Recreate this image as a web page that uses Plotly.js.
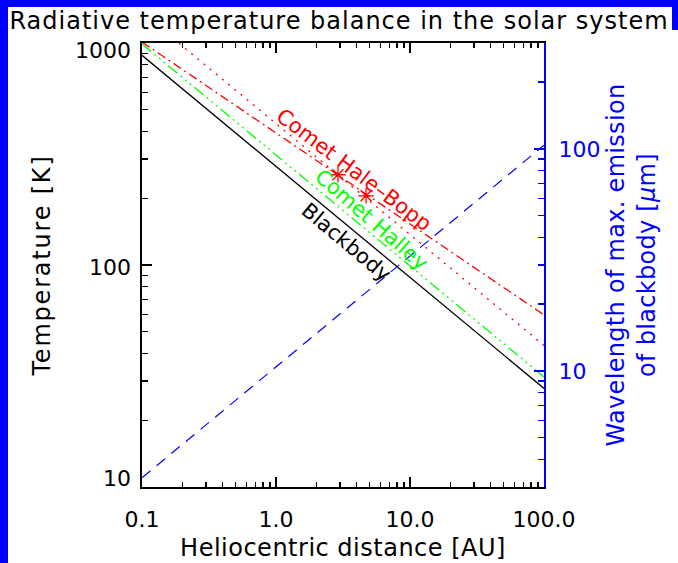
<!DOCTYPE html>
<html>
<head>
<meta charset="utf-8">
<script src="https://cdn.plot.ly/plotly-3.0.1.min.js"></script>
<style>
  html, body { margin: 0; padding: 0; background: #ffffff; }
  #wrap { position: relative; width: 678px; height: 563px; overflow: hidden; }
  #chart { position: absolute; left: 0; top: 0; width: 678px; height: 563px; }
  .strip { position: absolute; background: #0000ff; z-index: 5; }
  #chart .gtitle { letter-spacing: 1px; }
  #chart .ytitle { letter-spacing: 1.8px; }
  #chart .xtitle { letter-spacing: 0.5px; }
  #chart .y2title { letter-spacing: 0.3px; }
</style>
</head>
<body>
<div id="wrap">
  <div id="chart"></div>
  <div class="strip" style="left:0;top:0;width:8px;height:563px;"></div>
  <div class="strip" style="left:0;top:0;width:678px;height:7px;"></div>
  <div class="strip" style="left:672px;top:0;width:6px;height:30px;"></div>
</div>
<script>
// ---- data ----
const distanceAU      = [0.1, 100];      // heliocentric distance [AU]
const tBlackbody      = [880, 27.8];     // blackbody temperature [K]
const tHalley         = [990, 31.3];     // Comet Halley [K]
const tHaleBoppFit    = [1010, 59.6];    // Comet Hale-Bopp (dash-dot) [K]
const tHaleBoppDotted = [1370, 43.4];    // Comet Hale-Bopp (dotted) [K]
const lambdaMax       = [3.3, 104];      // wavelength of max emission [um]
const hbObsDistance   = [2.9, 4.7];      // Hale-Bopp measurements [AU]
const hbObsTemp       = [255, 205];      // Hale-Bopp measurements [K]

// ---- tick labels ----
const xTickVals  = [0.1, 1, 10, 100];
const xTickText  = ['0.1', '1.0', '10.0', '100.0'];
const yTickVals  = [10, 100, 1000];
const yTickText  = ['10', '100', '1000'];
const y2TickVals = [10, 100];
const y2TickText = ['10', '100'];

function minorTicks(lo, hi) {
  const out = [];
  for (let d = lo; d < hi; d *= 10) {
    for (let k = 2; k <= 9; k++) out.push(d * k);
  }
  return out;
}
const y2Minor = [4, 5, 6, 7, 8, 9, 20, 30, 40, 50, 60, 70, 80, 90, 200];

const FONT = 'DejaVu Sans, sans-serif';
const RED = '#ff0000', GREEN = '#00ff00', BLUE = '#0000ff';

const traces = [
  { x: distanceAU, y: tBlackbody, mode: 'lines', line: { color: '#000000', width: 1.3 }, hoverinfo: 'skip' },
  { x: distanceAU, y: tHalley, mode: 'lines', line: { color: GREEN, width: 1.3, dash: '12px,4px,2px,4px,2px,4px,2px,4px' }, hoverinfo: 'skip' },
  { x: distanceAU, y: tHaleBoppFit, mode: 'lines', line: { color: RED, width: 1.3, dash: '9px,4px,2px,4px' }, hoverinfo: 'skip' },
  { x: distanceAU, y: tHaleBoppDotted, mode: 'lines', line: { color: RED, width: 1.3, dash: '2px,6px' }, hoverinfo: 'skip' },
  { x: hbObsDistance, y: hbObsTemp, mode: 'markers', marker: { symbol: 'asterisk-open', size: 13, color: RED, line: { color: RED, width: 1.3 } }, hoverinfo: 'skip' },
  { x: distanceAU, y: lambdaMax, yaxis: 'y2', mode: 'lines', line: { color: BLUE, width: 1.2, dash: '11px,8px' }, hoverinfo: 'skip' }
];

const annotations = [];
// left y tick labels (IDL style: end labels kept inside the axis span)
const yLabelShift = [9, -2, -7];
yTickVals.forEach((v, i) => {
  annotations.push({ xref: 'paper', yref: 'y', x: 0, y: Math.log10(v), text: yTickText[i],
    xanchor: 'right', yanchor: 'middle', xshift: -9, yshift: yLabelShift[i], showarrow: false,
    font: { family: FONT, size: 22, color: '#000000' } });
});
// curve labels
annotations.push({ x: Math.log10(3.82), y: Math.log10(268), text: 'Comet Hale–Bopp', textangle: 37,
  showarrow: false, font: { family: FONT, size: 21, color: RED } });
annotations.push({ x: Math.log10(5.2), y: Math.log10(160), text: 'Comet Halley', textangle: 41,
  showarrow: false, font: { family: FONT, size: 21, color: GREEN } });
annotations.push({ x: Math.log10(3.33), y: Math.log10(127), text: 'Blackbody', textangle: 40,
  showarrow: false, font: { family: FONT, size: 21, color: '#000000' } });

const layout = {
  width: 678, height: 563,
  paper_bgcolor: '#ffffff', plot_bgcolor: '#ffffff',
  margin: { l: 142, r: 134, t: 43, b: 76, pad: 0 },
  showlegend: false,
  font: { family: FONT, size: 22, color: '#000000' },
  title: { text: 'Radiative temperature balance in the solar system', x: 0.5, xref: 'container', xanchor: 'center',
    y: 1 - 21 / 563, yref: 'container', yanchor: 'middle', font: { family: FONT, size: 24, color: '#000000' } },
  xaxis: {
    type: 'log', range: [-1, 2], showgrid: false, zeroline: false,
    showline: true, linecolor: '#000000', linewidth: 2, mirror: 'ticks',
    ticks: 'inside', ticklen: 10, tickwidth: 1.3, tickcolor: '#000000',
    tickmode: 'array', tickvals: xTickVals, ticktext: xTickText,
    ticklabelstandoff: 12,
    tickfont: { family: FONT, size: 22, color: '#000000' },
    minor: { tickmode: 'array', tickvals: minorTicks(0.1, 100), ticks: 'inside', ticklen: 5, tickwidth: 1.3, tickcolor: '#000000', showgrid: false },
    title: { text: 'Heliocentric distance [AU]', standoff: 8, font: { family: FONT, size: 24, color: '#000000' } }
  },
  yaxis: {
    type: 'log', range: [1, 3], showgrid: false, zeroline: false,
    showline: true, linecolor: '#000000', linewidth: 2, mirror: false,
    ticks: 'inside', ticklen: 10, tickwidth: 1.3, tickcolor: '#000000',
    tickmode: 'array', tickvals: yTickVals, ticktext: yTickText, showticklabels: false,
    minor: { tickmode: 'array', tickvals: minorTicks(10, 1000), ticks: 'inside', ticklen: 6, tickwidth: 1.3, tickcolor: '#000000', showgrid: false },
    title: { text: 'Temperature [K]', standoff: 83, font: { family: FONT, size: 24, color: '#000000' } }
  },
  yaxis2: {
    type: 'log', range: [Math.log10(3), Math.log10(300)], overlaying: 'y', side: 'right',
    showgrid: false, zeroline: false,
    showline: true, linecolor: BLUE, linewidth: 2,
    ticks: 'inside', ticklen: 10, tickwidth: 1.3, tickcolor: BLUE,
    tickmode: 'array', tickvals: y2TickVals, ticktext: y2TickText,
    ticklabelstandoff: 8,
    tickfont: { family: FONT, size: 22, color: BLUE },
    minor: { tickmode: 'array', tickvals: y2Minor, ticks: 'inside', ticklen: 6, tickwidth: 1.3, tickcolor: BLUE, showgrid: false },
    title: { text: 'Wavelength of max. emission<br>of blackbody [<i>μ</i>m]', standoff: 8, font: { family: FONT, size: 24, color: BLUE } }
  },
  annotations: annotations
};

Plotly.newPlot('chart', traces, layout, { staticPlot: true, displayModeBar: false });
</script>
</body>
</html>
